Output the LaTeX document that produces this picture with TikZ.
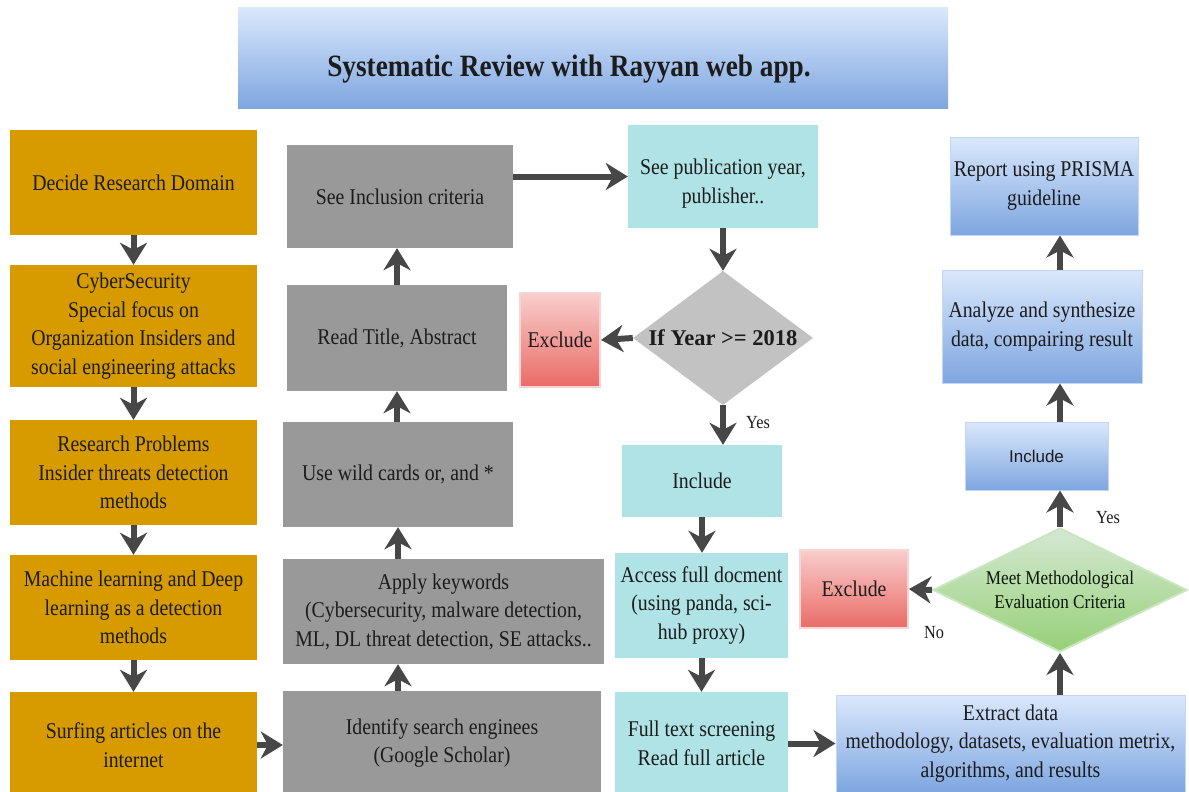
\documentclass[tikz,border=0pt]{standalone}
\usepackage{fontspec}
\setmainfont{Liberation Serif}[FakeStretch=0.88]
\newfontfamily\plainserif{Liberation Serif}
\newfontfamily\labelsans{Liberation Sans}
\usetikzlibrary{arrows.meta,shapes.geometric}

\definecolor{ochre}{HTML}{D79B00}
\definecolor{boxgray}{HTML}{999999}
\definecolor{diagray}{HTML}{C2C2C2}
\definecolor{aqua}{HTML}{B0E3E6}
\definecolor{bluetop}{HTML}{DAE8FC}
\definecolor{bluebot}{HTML}{7EA6E0}
\definecolor{blueedge}{HTML}{C4D7F2}
\definecolor{redtop}{HTML}{F8CECC}
\definecolor{redbot}{HTML}{EA6B66}
\definecolor{rededge}{HTML}{F6D5D4}
\definecolor{greentop}{HTML}{D5E8D4}
\definecolor{greenbot}{HTML}{97D077}
\definecolor{greenedge}{HTML}{C9E6BE}
\definecolor{arrowgray}{HTML}{474747}
\definecolor{txt}{HTML}{1C1C1C}

\begin{document}
\begin{tikzpicture}[x=1pt,y=-1pt,
  base/.style={rectangle, inner sep=2pt, align=center, text=txt,
    font=\fontsize{22.5}{28.5}\selectfont},
  orangebox/.style={base, fill=ochre},
  graybox/.style={base, fill=boxgray},
  aquabox/.style={base, fill=aqua},
  bluebox/.style={base, draw=blueedge, line width=1pt, top color=bluetop, bottom color=bluebot},
  redbox/.style={base, draw=rededge, line width=2pt, top color=redtop, bottom color=redbot},
  sz/.style 2 args={minimum width=#1pt, minimum height=#2pt},
  decision/.style={diamond, inner sep=0pt},
  arr/.style={draw=arrowgray, line width=6pt, -{Stealth[length=22pt,width=27pt,inset=7pt]}},
  tag/.style={text=txt, font=\fontsize{18.5}{22}\selectfont, inner sep=0pt}
]
\useasboundingbox (0,0) rectangle (1189,792);
\fill[white] (0,0) rectangle (1189,792);

% heading
\node[rectangle, top color=bluetop, bottom color=bluebot, sz={710}{100}] (title) at (593,58) {};
\node[text=txt, font=\fontsize{31}{36}\bfseries\selectfont] (titletext) at (569,69)
      {Systematic Review with Rayyan web app.};

% planning column
\node[orangebox, sz={247}{105}] (b1) at (133.5,182.5) {Decide Research Domain};
\node[orangebox, sz={247}{122}] (b2) at (133.5,326)
  {CyberSecurity\\Special focus on\\Organization Insiders and\\social engineering attacks};
\node[orangebox, sz={247}{105}] (b3) at (133.5,472.5)
  {Research Problems\\Insider threats detection\\methods};
\node[orangebox, sz={247}{105}] (b4) at (133.5,607.5)
  {Machine learning and Deep\\learning as a detection\\methods};
\node[orangebox, sz={247}{106}] (b5) at (133.5,745)
  {Surfing articles on the\\internet};

% search column
\node[graybox, sz={226}{103}] (g1) at (400,196.5) {See Inclusion criteria};
\node[graybox, sz={220}{106}] (g2) at (397,338) {Read Title, Abstract};
\node[graybox, sz={230}{105}] (g3) at (398,474.5) {Use wild cards or, and *};
\node[graybox, sz={321}{105}] (g4) at (443.5,611.5)
  {Apply keywords\\(Cybersecurity, malware detection,\\ML, DL threat detection, SE attacks..};
\node[graybox, sz={318}{104}] (g5) at (442,743)
  {Identify search enginees\\(Google Scholar)};

% screening column
\node[aquabox, sz={190}{103}] (c1) at (723,176.5)
  {\raisebox{-7pt}[\height][\depth]{\begin{tabular}{@{}c@{}}See publication year,\\publisher..\end{tabular}}};
\node[decision, fill=diagray, sz={180}{134},
      label={[text=txt, font=\plainserif\fontsize{22.5}{26}\bfseries\selectfont]center:If Year >= 2018}]
      (d1) at (723,338) {};
\node[redbox, sz={80}{94}] (ex1) at (560,340) {Exclude};
\node[aquabox, sz={160}{72}] (c2) at (702,481) {Include};
\node[aquabox, sz={173}{105}] (c3) at (701.5,605.5)
  {Access full docment\\(using panda, sci-\\hub proxy)};
\node[aquabox, sz={173}{103}] (c4) at (701.5,743.5)
  {Full text screening\\Read full article};

% evaluation column
\node[bluebox, sz={188}{98}] (r1) at (1044,186) {Report using PRISMA\\guideline};
\node[bluebox, sz={200}{113}] (r2) at (1042,326.5)
  {Analyze and synthesize\\data, compairing result};
\node[bluebox, sz={143}{68}, font=\labelsans\fontsize{17}{20}\selectfont] (r3) at (1036.5,456) {Include};
\node[decision, draw=greenedge, line width=2pt, top color=greentop, bottom color=greenbot, sz={254}{124},
      label={[text=txt!85!green!40!black, align=center, font=\fontsize{19.5}{23.5}\selectfont]center:Meet Methodological\\Evaluation Criteria}]
      (d2) at (1060,590) {};
\node[redbox, sz={108}{78}] (ex2) at (854,589) {Exclude};
\node[bluebox, sz={349}{97}] (r4) at (1010.5,743.5)
  {Extract data\\methodology, datasets, evaluation metrix,\\algorithms, and results};

% branch labels
\node[tag] (yes1) at (758,423) {Yes};
\node[tag] (yes2) at (1108,518) {Yes};
\node[tag] (no2) at (934,633) {No};

% connectors
\draw[arr] (b1.south) -- (b2.north);
\draw[arr] (b2.south) -- (b3.north);
\draw[arr] (b3.south) -- (b4.north);
\draw[arr] (b4.south) -- (b5.north);
\draw[arr] (b5.east) -- (b5.east -| g5.west);

\draw[arr] (g3.south |- g5.north) -- (g3.south |- g4.south);
\draw[arr] (g3.south |- g4.north) -- (g3.south);
\draw[arr] (g2.south |- g3.north) -- (g2.south);
\draw[arr] (g2.north) -- (g2.north |- g1.south);
\draw[arr] (g1.east |- c1.west) -- (c1.west);

\draw[arr] (c1.south) -- (d1.north);
\draw[arr] (d1.west) -- (ex1.east);
\draw[arr] (d1.south) -- (d1.south |- c2.north);
\draw[arr] (c2.south) -- (c2.south |- c3.north);
\draw[arr] (c3.south) -- (c3.south |- c4.north);
\draw[arr] (c4.east) -- (c4.east -| r4.west);

\draw[arr] (r4.north -| d2.south) -- (d2.south);
\draw[arr] (d2.west) -- (ex2.east);
\draw[arr] (d2.north) -- (d2.north |- r3.south);
\draw[arr] (d2.north |- r3.north) -- (d2.north |- r2.south);
\draw[arr] (d2.north |- r2.north) -- (d2.north |- r1.south);
\end{tikzpicture}
\end{document}
